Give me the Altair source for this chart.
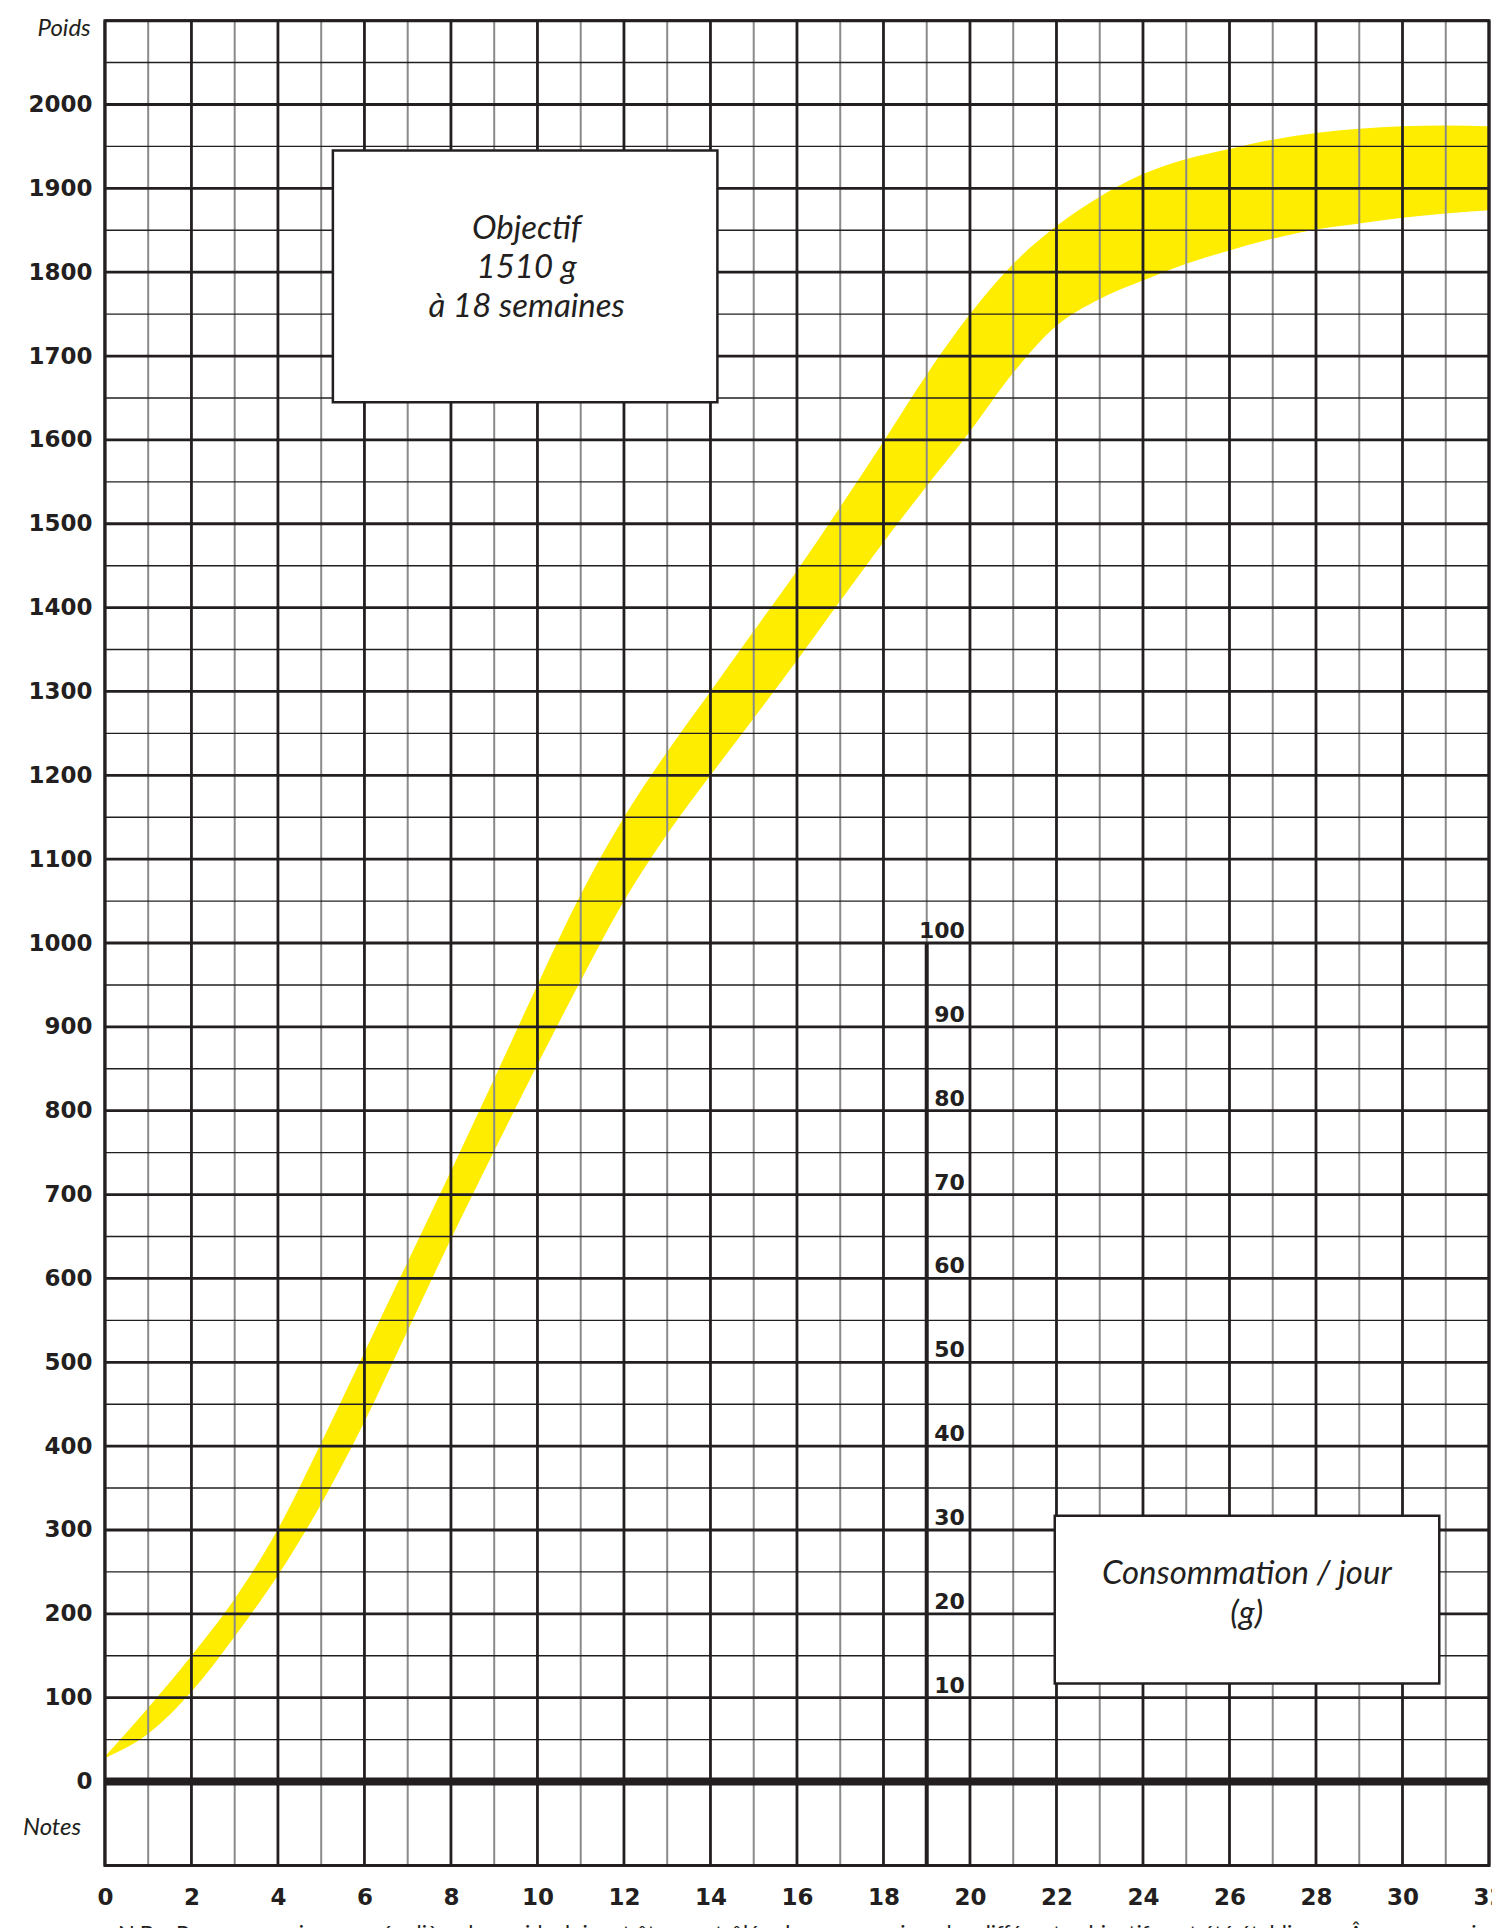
import altair as alt
import pandas as pd

# ---------------- data ----------------
weeks = [0, 1, 2, 3, 4, 5, 6, 7, 8, 9, 10, 11, 12, 13, 14, 15, 16, 17, 18, 19, 20, 21, 22, 23, 24, 25, 26, 27, 28, 29, 30, 31, 32]
upper = [30, 88, 150, 218, 301, 404, 512, 620, 728, 838, 950, 1058, 1150, 1228, 1300, 1372, 1444, 1520, 1598, 1678, 1750, 1810, 1855, 1890, 1917, 1935, 1947, 1958, 1966, 1971, 1974, 1975, 1974]
lower = [28, 57, 107, 173, 246, 331, 429, 538, 647, 752, 855, 955, 1050, 1130, 1200, 1268, 1337, 1408, 1478, 1545, 1610, 1680, 1736, 1768, 1790, 1810, 1826, 1840, 1851, 1858, 1865, 1870, 1874]

x_ticks = list(range(0, 33, 2))
y_ticks = list(range(0, 2001, 100))
major_x = list(range(0, 33, 2))
minor_x = list(range(1, 32, 2))
major_y = list(range(100, 2101, 100))
minor_y = list(range(50, 2051, 100))
conso_values = [10, 20, 30, 40, 50, 60, 70, 80, 90, 100]

boxes_x = [5.27, 21.96]
boxes_x2 = [14.16, 30.85]
boxes_y = [1645, 117]
boxes_y2 = [1945, 317]

box_texts = ["Objectif", "1510 g", "à 18 semaines", "Consommation / jour", "(g)"]
box_text_x = [9.75, 9.75, 9.75, 26.4, 26.4]
box_text_y = [1851, 1805, 1759, 248, 200]

side_texts = ["Poids", "Notes"]
foot_texts = ["N.B. : Pour une croissance régulière, les poids doivent être contrôlés chaque semaine ; les différents objectifs ont été établis",
              "Âge en semaines"]

XDOM = [0, 32]
YDOM = [-100, 2100]
W, H = 1385, 1846

xs = alt.Scale(domain=XDOM, nice=False, zero=False)
ys = alt.Scale(domain=YDOM, nice=False, zero=False)

DARK = "#231f20"
NUMFONT = "DejaVu Sans"
ITFONT = "Lato"

band_df = pd.DataFrame({"w": weeks, "hi": upper, "lo": lower})

band = alt.Chart(band_df).mark_area(color="#ffed00", interpolate="monotone", opacity=1).encode(
    x=alt.X("w:Q", scale=xs, axis=alt.Axis(values=x_ticks, title=None, grid=False, ticks=False, domain=False,
                                           format="d",
                                           labelFont=NUMFONT, labelFontWeight="bold", labelFontSize=23,
                                           labelColor=DARK, labelPadding=21, labelFlush=False, labelOverlap=False)),
    y=alt.Y("hi:Q", scale=ys, axis=alt.Axis(values=y_ticks, title=None, grid=False, ticks=False, domain=False,
                                            format="d",
                                            labelFont=NUMFONT, labelFontWeight="bold", labelFontSize=23,
                                            labelColor=DARK, labelPadding=13, labelOverlap=False)),
    y2="lo:Q",
)

def vrules(vals, color, width):
    df = pd.DataFrame({"v": vals})
    return alt.Chart(df).mark_rule(color=color, strokeWidth=width).encode(
        x=alt.X("v:Q", scale=xs), y=alt.value(0), y2=alt.value(H))

def hrules(vals, color, width):
    df = pd.DataFrame({"v": vals})
    return alt.Chart(df).mark_rule(color=color, strokeWidth=width).encode(
        y=alt.Y("v:Q", scale=ys), x=alt.value(0), x2=alt.value(W))

minor_v = vrules(minor_x, "#8a8a8a", 2)
major_v = vrules(major_x, DARK, 2.8)
minor_h = hrules(minor_y, DARK, 1.4)
major_h = hrules(major_y, DARK, 2.8)
zero_h = hrules([0], DARK, 8)

# consumption scale line at week 19
cons_line_df = pd.DataFrame({"w": [19], "y1": [1000], "y2": [-100]})
cons_line = alt.Chart(cons_line_df).mark_rule(color=DARK, strokeWidth=4).encode(
    x=alt.X("w:Q", scale=xs), y=alt.Y("y1:Q", scale=ys), y2="y2:Q")

cons_df = pd.DataFrame({"w": [19.88] * len(conso_values), "g": [v * 10 for v in conso_values],
                        "t": [str(v) for v in conso_values]})
cons_labels = alt.Chart(cons_df).mark_text(align="right", baseline="alphabetic", dy=-5, font=NUMFONT,
                                           fontWeight="bold", fontSize=22, color=DARK).encode(
    x=alt.X("w:Q", scale=xs), y=alt.Y("g:Q", scale=ys), text="t:N")

# frame
frame_df = pd.DataFrame({"x": [0], "x2": [32], "y": [-100], "y2": [2100]})
frame = alt.Chart(frame_df).mark_rect(fill=None, stroke=DARK, strokeWidth=3).encode(
    x=alt.X("x:Q", scale=xs), x2="x2:Q", y=alt.Y("y:Q", scale=ys), y2="y2:Q")

box_df = pd.DataFrame({"x": boxes_x, "x2": boxes_x2, "y": boxes_y, "y2": boxes_y2})
boxes = alt.Chart(box_df).mark_rect(fill="white", stroke=DARK, strokeWidth=2.5).encode(
    x=alt.X("x:Q", scale=xs), x2="x2:Q", y=alt.Y("y:Q", scale=ys), y2="y2:Q")

txt_df = pd.DataFrame({"t": box_texts, "x": box_text_x, "y": box_text_y})
box_txt = alt.Chart(txt_df).mark_text(font=ITFONT, fontStyle="italic", fontSize=33, color=DARK,
                                      baseline="middle", align="center").encode(
    x=alt.X("x:Q", scale=xs), y=alt.Y("y:Q", scale=ys), text="t:N")

side_df = pd.DataFrame({"t": side_texts, "x": [-0.33, -0.55], "y": [2090, -55]})
side_txt = alt.Chart(side_df).mark_text(font=ITFONT, fontStyle="italic", fontSize=24, color=DARK,
                                        baseline="middle", align="right").encode(
    x=alt.X("x:Q", scale=xs), y=alt.Y("y:Q", scale=ys), text="t:N")

foot_df = pd.DataFrame({"t": foot_texts, "x": [0.3, 28.75], "y": [-190, -190]})
foot_txt = alt.Chart(foot_df).mark_text(font=ITFONT, fontSize=22, color=DARK,
                                        baseline="alphabetic", align="left").encode(
    x=alt.X("x:Q", scale=xs), y=alt.Y("y:Q", scale=ys), text="t:N")

chart = alt.layer(
    band, minor_v, major_v, minor_h, major_h, zero_h, cons_line, frame,
    boxes, box_txt, cons_labels, side_txt, foot_txt
).properties(
    width=W, height=H,
    autosize=alt.AutoSizeParams(type="none"),
    padding={"left": 97, "top": 12, "right": 3, "bottom": 62},
).configure_view(stroke=None).configure(background="white")

chart.save("out.html", embed_options={"renderer": "svg", "actions": False})
